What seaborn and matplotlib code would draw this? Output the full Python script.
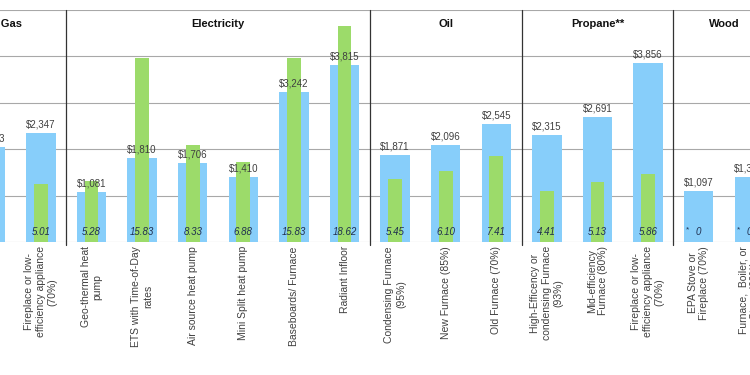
import matplotlib
matplotlib.use("Agg")
import numpy as np
import pandas as pd
import matplotlib.pyplot as plt
import seaborn as sns

# 数据：各燃料分组与取暖方式（左右两端在原图中被裁掉一部分）
sections = ["Natural Gas", "Electricity", "Oil", "Propane**", "Wood"]
section_sizes = [3, 6, 3, 3, 2]

systems = [
    "High-efficiency or\ncondensing Furnace\n(95%)",
    "Mid-efficiency\nFurnace (80%)",
    "Fireplace or low-\nefficiency appliance\n(70%)",
    "Geo-thermal heat\npump",
    "ETS with Time-of-Day\nrates",
    "Air source heat pump",
    "Mini Split heat pump",
    "Baseboards/ Furnace",
    "Radiant Infloor",
    "Condensing Furnace\n(95%)",
    "New Furnace (85%)",
    "Old Furnace (70%)",
    "High-Efficency or\ncondensing Furnace\n(93%)",
    "Mid-efficiency\nFurnace (80%)",
    "Fireplace or low-\nefficiency appliance\n(70%)",
    "EPA Stove or\nFireplace (70%)",
    "Furnace,  Boiler, or\nStove (60%)",
]
annual_cost = [1730, 2043, 2347, 1081, 1810, 1706, 1410, 3242, 3815,
               1871, 2096, 2545, 2315, 2691, 3856, 1097, 1397]
unit_price = [3.90, 4.36, 5.01, 5.28, 15.83, 8.33, 6.88, 15.83, 18.62,
              5.45, 6.10, 7.41, 4.41, 5.13, 5.86, 0, 0]
price_labels = ["3.90", "4.36", "5.01", "5.28", "15.83", "8.33", "6.88", "15.83", "18.62",
                "5.45", "6.10", "7.41", "4.41", "5.13", "5.86", "0", "0"]

df = pd.DataFrame({
    "pos": np.arange(len(systems)),
    "cost": annual_cost,
    "price": unit_price,
})

sns.set_style("white")
plt.rcParams["font.family"] = ["Liberation Sans", "DejaVu Sans"]

blue = "#87CEFA"
green = "#9CDB6A"
grid_c = "#A8A8A8"
text_c = "#404040"

fig = plt.figure(figsize=(7.5, 3.75), dpi=100)
# 原图是截取的一段，所以坐标轴超出画布左右两侧
ax = fig.add_axes([-85.5 / 750, 133 / 375, 860 / 750, 232 / 375])
ax2 = ax.twinx()

sns.barplot(data=df, x="pos", y="cost", native_scale=True, width=0.58,
            color=blue, saturation=1, linewidth=0, ax=ax)
sns.barplot(data=df, x="pos", y="price", native_scale=True, width=0.27,
            color=green, saturation=1, linewidth=0, ax=ax2)

for a in (ax, ax2):
    a.set_xlim(-0.5, len(systems) - 0.5)
    for s in a.spines.values():
        s.set_visible(False)
    a.set_xlabel("")
    a.set_ylabel("")

ax.set_ylim(0, 5000)
ax2.set_ylim(0, 20)
ax.set_yticks(np.arange(0, 5001, 1000))
ax.set_yticklabels([])
ax2.set_yticks([])
ax.tick_params(axis="y", length=0)
ax.yaxis.grid(True, color=grid_c, linewidth=0.8)
ax.set_axisbelow(True)

ax.set_xticks(df["pos"])
ax.set_xticklabels(systems, rotation=90, fontsize=7.5, color=text_c)
ax.tick_params(axis="x", length=0, pad=3)
ax2.tick_params(axis="x", length=0, labelbottom=False)

# 数值标签
for i, (c, p) in enumerate(zip(annual_cost, price_labels)):
    ax2.annotate(f"${c:,}", (i, c), xycoords=ax.transData, xytext=(0, 2.5),
                 textcoords="offset points", ha="center", va="bottom",
                 fontsize=7, color=text_c)
    ax2.text(i, 215, p, transform=ax.transData, ha="center", va="center",
             fontsize=7, style="italic", color="#1F2F4F")
    if p == "0":
        ax2.text(i - 0.22, 270, "*", transform=ax.transData, ha="center",
                 va="center", fontsize=6, color="#1F2F4F")

# 分组标题与分隔线
start = 0
for name, n in zip(sections, section_sizes):
    ax2.text(start + (n - 1) / 2, 4700, name, transform=ax.transData,
             ha="center", va="center", fontsize=8, fontweight="bold", color="#111111")
    if start > 0:
        ax2.plot([start - 0.5, start - 0.5], [-70, 5000], transform=ax.transData,
                 color="#333333", linewidth=0.9, clip_on=False)
    start += n

fig.savefig("out.png", dpi=100, facecolor="white")
